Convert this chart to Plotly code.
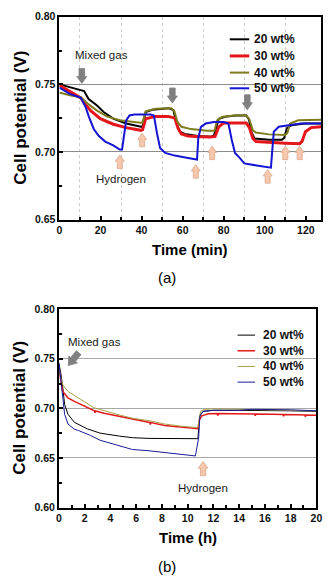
import math
import plotly.graph_objects as go

W, H = 336, 586

# ---------------- (a) gas switching, time in minutes ----------------
t_a_20 = [0, 5, 8.8, 12, 14.2, 18.3, 21.5, 26.2, 32.5, 38.9, 40.4, 41.2, 42, 45.2, 50, 53, 55.5, 57,
          58.6, 61, 67.3, 73.6, 75.2, 76.5, 77.6, 81.5, 86, 91, 92.3, 93.4, 95, 102, 108.4, 109.5,
          110.7, 113, 119.4, 127.5]
v_a_20 = [0.750, 0.748, 0.7464, 0.745, 0.7392, 0.7343, 0.7295, 0.7246, 0.721, 0.719, 0.7185, 0.724,
          0.7295, 0.7312, 0.732, 0.7324, 0.731, 0.721, 0.715, 0.7133, 0.7118, 0.7113, 0.712, 0.718,
          0.7246, 0.7263, 0.727, 0.727, 0.724, 0.715, 0.710, 0.709, 0.709, 0.7105, 0.7174, 0.7198,
          0.721, 0.721]

t_a_30 = [0, 5, 10.4, 12.8, 15.2, 19.9, 26.2, 32.5, 39.7, 40.5, 41.2, 42, 46.8, 53, 56.2, 57.8,
          59.4, 62.6, 68.9, 73.6, 75.8, 76.8, 77.6, 80, 87.8, 91, 92.5, 94.2, 95.7, 102, 110, 117,
          118.2, 119.8, 122.6, 127.5]
v_a_30 = [0.7493, 0.745, 0.740, 0.735, 0.7306, 0.7246, 0.7205, 0.718, 0.716, 0.7165, 0.721, 0.7246,
          0.7263, 0.7263, 0.725, 0.7174, 0.7133, 0.7118, 0.7113, 0.711, 0.7115, 0.715, 0.7186,
          0.7215, 0.7215, 0.7215, 0.718, 0.710, 0.7077, 0.707, 0.7065, 0.706, 0.708, 0.715, 0.718,
          0.7186]

t_a_40 = [0, 5, 10.4, 14.4, 18.3, 23, 29.4, 38.9, 40.4, 41.2, 42, 46.8, 54.6, 56, 57.5, 59.4, 64.1,
          72, 75.5, 76.8, 79.1, 84.7, 91, 92.5, 94.2, 95.7, 102, 110, 111, 112.3, 116.3, 127.5]
v_a_40 = [0.744, 0.742, 0.7405, 0.735, 0.7306, 0.7263, 0.7234, 0.7217, 0.7215, 0.726, 0.730, 0.7319,
          0.7324, 0.730, 0.7222, 0.7186, 0.7169, 0.7157, 0.7157, 0.7234, 0.7258, 0.727, 0.727,
          0.724, 0.716, 0.7143, 0.713, 0.7125, 0.714, 0.721, 0.7234, 0.7239]

t_a_50 = [0, 5, 10.4, 12.8, 14.4, 16.7, 19.1, 22.3, 26.2, 29.4, 30.5, 31.3, 32.5, 34.1, 36.5, 44.4,
          46, 47.5, 49, 51.5, 56.2, 62.6, 67, 67.6, 68.9, 71.2, 75.2, 80, 82.3, 83.9, 85.5, 87.8, 90,
          96, 103, 103.6, 104.4, 106.8, 111.5, 117.6, 127.5]
v_a_50 = [0.7476, 0.743, 0.740, 0.733, 0.7258, 0.717, 0.712, 0.7077, 0.7049, 0.7018, 0.7018, 0.7113,
          0.7234, 0.727, 0.7277, 0.7277, 0.727, 0.7138, 0.703, 0.6993, 0.6973, 0.6956, 0.6944,
          0.710, 0.7186, 0.721, 0.7222, 0.7222, 0.721, 0.709, 0.6993, 0.6956, 0.6915, 0.690,
          0.6884, 0.700, 0.715, 0.7186, 0.7198, 0.721, 0.721]

# gas-switch markers for (a): (time, potential at arrow tip)
mixed_a = [(10.9, 0.7507), (55.0, 0.7362), (91.5, 0.7312)]
hydro_a = [(29.4, 0.6978), (40.3, 0.7138), (66.4, 0.6906), (74.4, 0.7043), (101.4, 0.6869),
           (110.0, 0.7043), (117.0, 0.7043)]

# ---------------- (b) long run, time in hours ----------------
t_b_20 = [0, 0.15, 0.3, 0.44, 0.7, 1.2, 2.2, 3.2, 4.7, 5.7, 7, 8.2, 9.5, 10.8, 10.85, 10.95, 11.2,
          12, 14, 16, 18, 20]
v_b_20 = [0.745, 0.735, 0.7205, 0.704, 0.694, 0.6859, 0.6793, 0.675, 0.672, 0.6704, 0.6697, 0.6694,
          0.6694, 0.6694, 0.680, 0.693, 0.697, 0.698, 0.698, 0.698, 0.6975, 0.697]

t_b_30 = [0, 0.1, 0.2, 0.3, 0.7, 1.2, 1.7, 2.2, 2.75, 2.8, 2.85, 3.5, 4.5, 5.7, 7.05, 7.1, 7.15, 8.2,
          9.5, 10.8, 10.9, 11.1, 11.6, 12.3, 12.35, 12.4, 13.5, 15.2, 15.25, 15.3, 16.5, 17.4, 17.45,
          17.5, 18.5, 19.1, 19.15, 19.2, 20]
v_b_30 = [0.741, 0.730, 0.7237, 0.717, 0.7106, 0.707, 0.704, 0.701, 0.6975, 0.6955, 0.6973, 0.695,
          0.6925, 0.689, 0.6858, 0.6838, 0.6857, 0.6826, 0.681, 0.6795, 0.688, 0.6925, 0.6945,
          0.6948, 0.6928, 0.6948, 0.6946, 0.6943, 0.6925, 0.6943, 0.694, 0.6938, 0.692, 0.6937,
          0.6935, 0.6933, 0.6915, 0.6932, 0.693]

t_b_40 = [0, 0.1, 0.3, 0.7, 1.7, 2.7, 4.5, 5.7, 7, 8.2, 9.5, 10.8, 10.9, 11.0, 11.3, 12, 14, 16, 18, 20]
v_b_40 = [0.742, 0.733, 0.7237, 0.717, 0.709, 0.7007, 0.694, 0.690, 0.6876, 0.6842, 0.682, 0.6805,
          0.690, 0.697, 0.699, 0.6995, 0.699, 0.6985, 0.698, 0.6975]

t_b_50 = [0, 0.1, 0.3, 0.44, 0.7, 1.2, 1.5, 2.45, 3.2, 4.5, 5.7, 7, 7.7, 8.5, 9.5, 10.6, 10.85,
          10.95, 11.2, 12, 14, 15, 18, 20]
v_b_50 = [0.746, 0.735, 0.7106, 0.694, 0.6842, 0.679, 0.6777, 0.6727, 0.6678, 0.6629, 0.6585,
          0.6572, 0.6562, 0.6546, 0.6535, 0.652, 0.670, 0.692, 0.697, 0.698, 0.698, 0.699, 0.6985,
          0.6975]

mixed_b = (0.72, 0.7432)
hydro_b = (11.2, 0.6464)

series_names = ["20 wt%", "30 wt%", "40 wt%", "50 wt%"]
colors_a = ["#000000", "#E3161B", "#7F7C1E", "#1414D2"]
widths_a = [2, 3, 2, 2]
colors_b = ["#000000", "#E31A1C", "#A8A04A", "#1A1A9A"]
widths_b = [1, 1.5, 1, 1]

FONT = "Liberation Sans, Arial, sans-serif"


def px(x):
    return x / W


def py(y):
    return 1 - y / H


fig = go.Figure()

data_a = [(t_a_20, v_a_20), (t_a_30, v_a_30), (t_a_40, v_a_40), (t_a_50, v_a_50)]
data_b = [(t_b_20, v_b_20), (t_b_30, v_b_30), (t_b_40, v_b_40), (t_b_50, v_b_50)]

for (t, v), name, c, w in zip(data_a, series_names, colors_a, widths_a):
    fig.add_trace(go.Scatter(x=t, y=v, mode="lines", name=name, showlegend=False,
                             line=dict(color=c, width=w), xaxis="x", yaxis="y"))
for (t, v), name, c, w in zip(data_b, series_names, colors_b, widths_b):
    fig.add_trace(go.Scatter(x=t, y=v, mode="lines", name=name, showlegend=False,
                             line=dict(color=c, width=w), xaxis="x2", yaxis="y2"))

tickfont = dict(family=FONT, size=10.5, color="#111", weight="bold")


def xaxis_cfg(domain, rng, dtick, minor_dtick, anchor, minor_grid):
    return dict(domain=domain, range=rng, anchor=anchor, dtick=dtick, tick0=0,
                showline=True, linewidth=2, linecolor="black", mirror=True,
                ticks="inside", ticklen=4, tickwidth=2, tickcolor="black",
                showgrid=False, zeroline=False, tickfont=tickfont,
                minor=dict(dtick=minor_dtick, ticks="inside", ticklen=3, tickwidth=1.5,
                           tickcolor="black", showgrid=minor_grid, griddash="dot",
                           gridcolor="#CCCCCC", gridwidth=1))


def yaxis_cfg(domain, rng, anchor, gridcolor):
    return dict(domain=domain, range=rng, anchor=anchor, dtick=0.05, tick0=0.60,
                tickformat=".2f", showline=True, linewidth=2, linecolor="black", mirror=True,
                ticks="inside", ticklen=4, tickwidth=2, tickcolor="black",
                showgrid=True, gridcolor=gridcolor, gridwidth=1, zeroline=False,
                tickfont=tickfont,
                minor=dict(dtick=0.025, ticks="inside", ticklen=3, tickwidth=1.5,
                           tickcolor="black", showgrid=False))


shapes = []
annotations = []


def block_arrow(xref, yref, x, y, fill, outline, angle_deg=0.0, size=1.0, down=True):
    """Block arrow glyph in pixel units, tip anchored at (x, y)."""
    pts = [(0, 0), (5, 7), (2.8, 7), (2.8, 15), (-2.8, 15), (-2.8, 7), (-5, 7)]
    if not down:
        pts = [(a, -b) for a, b in pts]
    th = math.radians(angle_deg)
    out = []
    for a, b in pts:
        a, b = a * size, b * size
        out.append((a * math.cos(th) - b * math.sin(th), a * math.sin(th) + b * math.cos(th)))
    path = "M " + " L ".join(f"{a:.2f},{b:.2f}" for a, b in out) + " Z"
    return dict(type="path", xref=xref, yref=yref, xsizemode="pixel", ysizemode="pixel",
                xanchor=x, yanchor=y, path=path, fillcolor=fill,
                line=dict(color=outline, width=0.8), layer="above")


GRAY = "#808080"
PEACH = "#F6C7AC"
PEACH_EDGE = "#D9A68C"

for t, v in mixed_a:
    shapes.append(block_arrow("x", "y", t, v, GRAY, GRAY, down=True))
for t, v in hydro_a:
    shapes.append(block_arrow("x", "y", t, v, PEACH, PEACH_EDGE, down=False, size=0.9))
shapes.append(block_arrow("x2", "y2", mixed_b[0], mixed_b[1], GRAY, GRAY, angle_deg=-39,
                          down=True, size=1.1))
shapes.append(block_arrow("x2", "y2", hydro_b[0], hydro_b[1], PEACH, PEACH_EDGE, down=False,
                          size=0.95))

note_font = dict(family=FONT, size=11.5, color="#1a1a1a")
annotations += [
    dict(xref="x", yref="y", x=20.6, y=0.7718, text="Mixed gas", showarrow=False, font=note_font),
    dict(xref="x", yref="y", x=29.9, y=0.6797, text="Hydrogen", showarrow=False, font=note_font),
    dict(xref="x2", yref="y2", x=2.75, y=0.7669, text="Mixed gas", showarrow=False, font=note_font),
    dict(xref="x2", yref="y2", x=11.2, y=0.6197, text="Hydrogen", showarrow=False, font=note_font),
]

# custom legends (short line samples)
title_font = dict(family=FONT, size=17, color="black", weight="bold")
xt_font = dict(family=FONT, size=15, color="black", weight="bold")
leg_font = dict(family=FONT, size=12, color="#111", weight="bold")

leg_a_rows = [34, 51, 68, 84]
for name, c, w, yy in zip(series_names, colors_a, widths_a, leg_a_rows):
    shapes.append(dict(type="line", xref="paper", yref="paper", x0=px(233), x1=px(253),
                       y0=py(yy), y1=py(yy), line=dict(color=c, width=w)))
    annotations.append(dict(xref="paper", yref="paper", x=px(256), y=py(yy), text=name,
                            showarrow=False, xanchor="left", yanchor="middle", font=leg_font))

leg_b_rows = [336, 352, 368, 384]
for name, c, w, yy in zip(series_names, colors_b, widths_b, leg_b_rows):
    shapes.append(dict(type="line", xref="paper", yref="paper", x0=px(241), x1=px(259),
                       y0=py(yy), y1=py(yy), line=dict(color=c, width=w)))
    annotations.append(dict(xref="paper", yref="paper", x=px(265), y=py(yy), text=name,
                            showarrow=False, xanchor="left", yanchor="middle", font=leg_font))

# axis titles and panel labels
annotations += [
    dict(xref="paper", yref="paper", x=px(18), y=py(114.5), text="Cell potential (V)",
         textangle=-90, showarrow=False, font=title_font, xanchor="center", yanchor="middle"),
    dict(xref="paper", yref="paper", x=px(17), y=py(410.7), text="Cell potential (V)",
         textangle=-90, showarrow=False, font=title_font, xanchor="center", yanchor="middle"),
    dict(xref="paper", yref="paper", x=px(192.5), y=py(249), text="Time (min)",
         showarrow=False, font=xt_font, xanchor="center", yanchor="middle"),
    dict(xref="paper", yref="paper", x=px(190), y=py(543), text="Time (h)",
         showarrow=False, font=xt_font, xanchor="center", yanchor="middle"),
    dict(xref="paper", yref="paper", x=px(168), y=py(277), text="(a)",
         showarrow=False, font=dict(family=FONT, size=15, color="black"),
         xanchor="center", yanchor="middle"),
    dict(xref="paper", yref="paper", x=px(168), y=py(572), text="(b)",
         showarrow=False, font=dict(family=FONT, size=15, color="black"),
         xanchor="center", yanchor="middle"),
]

fig.update_layout(
    width=W, height=H, margin=dict(l=0, r=0, t=0, b=0),
    paper_bgcolor="white", plot_bgcolor="white",
    xaxis=xaxis_cfg([px(58), px(327)], [0, 127.5], 20, 10, "y", True),
    yaxis=yaxis_cfg([py(218), py(11)], [0.65, 0.80], "x", "#8C8C8C"),
    xaxis2=xaxis_cfg([px(57.5), px(322)], [0, 20], 2, 1, "y2", False),
    yaxis2=yaxis_cfg([py(512), py(309.5)], [0.60, 0.80], "x2", "#A8A8A8"),
    shapes=shapes, annotations=annotations, showlegend=False,
)

fig.write_html("out.html")
